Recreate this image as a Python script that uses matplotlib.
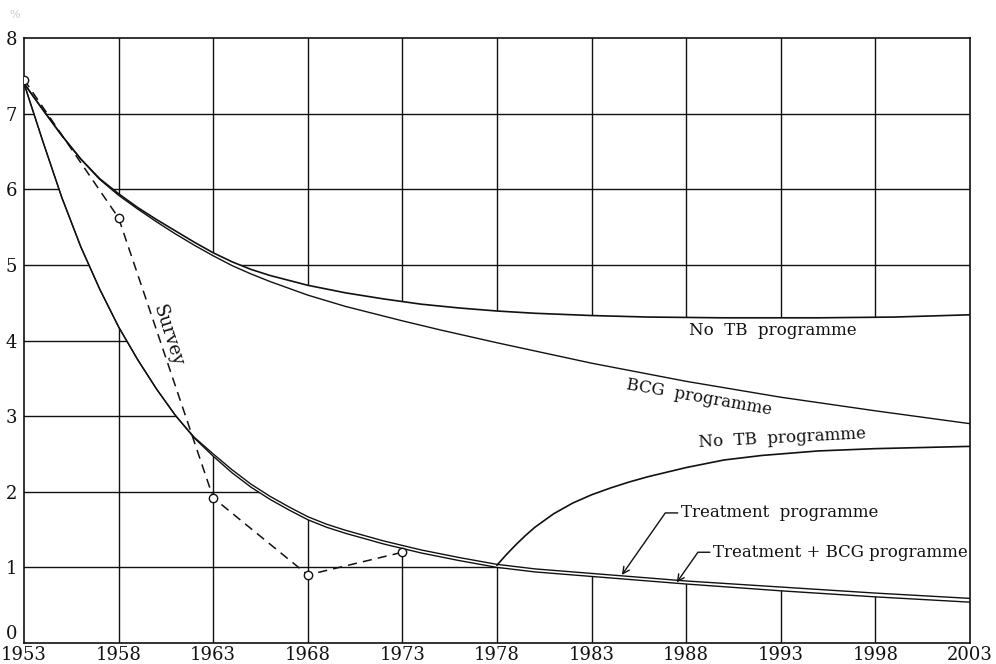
import matplotlib.pyplot as plt

# Prevalence (%) by year
no_tb_years = [1953, 1954, 1955, 1956, 1957, 1958, 1959, 1960, 1961, 1962, 1963,
               1964, 1965, 1966, 1968, 1970, 1972, 1974, 1976, 1978, 1980, 1983,
               1986, 1990, 1995, 1999, 2003]
no_tb_vals = [7.40, 7.05, 6.71, 6.40, 6.14, 5.94, 5.76, 5.60, 5.45, 5.30, 5.16,
              5.04, 4.94, 4.86, 4.73, 4.63, 4.55, 4.48, 4.43, 4.39, 4.36, 4.33,
              4.31, 4.30, 4.30, 4.31, 4.34]

bcg_years = [1953, 1954, 1955, 1956, 1957, 1958, 1959, 1960, 1961, 1962, 1963,
             1964, 1965, 1966, 1968, 1970, 1973, 1975, 1978, 1983, 1988, 1993,
             1998, 2003]
bcg_vals = [7.40, 7.05, 6.71, 6.40, 6.13, 5.92, 5.74, 5.57, 5.41, 5.26, 5.12,
            4.99, 4.88, 4.78, 4.60, 4.45, 4.26, 4.14, 3.97, 3.70, 3.46, 3.25,
            3.07, 2.90]

treat_years = [1953, 1954, 1955, 1956, 1957, 1958, 1959, 1960, 1961, 1962, 1963,
               1964, 1965, 1966, 1967, 1968, 1969, 1970, 1972, 1974, 1976, 1978,
               1980, 1983, 1988, 1993, 1998, 2003]
treat_vals = [7.40, 6.63, 5.89, 5.24, 4.68, 4.18, 3.75, 3.36, 3.01, 2.72, 2.50,
              2.29, 2.10, 1.94, 1.80, 1.67, 1.57, 1.49, 1.35, 1.23, 1.13, 1.04,
              0.98, 0.92, 0.82, 0.74, 0.66, 0.59]
treat_bcg_vals = [7.40, 6.63, 5.89, 5.24, 4.68, 4.18, 3.75, 3.36, 3.01, 2.71, 2.47,
                  2.25, 2.06, 1.90, 1.76, 1.63, 1.53, 1.45, 1.31, 1.19, 1.09, 1.00,
                  0.94, 0.88, 0.78, 0.69, 0.61, 0.54]

stop_years = [1978, 1978.5, 1979, 1979.5, 1980, 1981, 1982, 1983, 1984, 1985,
              1986, 1987, 1988, 1990, 1992, 1995, 1998, 2003]
stop_vals = [1.03, 1.17, 1.30, 1.42, 1.53, 1.71, 1.85, 1.96, 2.05, 2.13,
             2.20, 2.26, 2.32, 2.42, 2.48, 2.54, 2.57, 2.60]

survey_years = [1953, 1958, 1963, 1968, 1973]
survey_vals = [7.45, 5.62, 1.92, 0.90, 1.20]

x_ticks = list(range(1953, 2004, 5))
y_ticks = list(range(0, 9))

INK = '#111111'
plt.rcParams['font.family'] = ['DejaVu Serif']

fig = plt.figure(figsize=(9.96, 6.64), dpi=100)
ax = fig.add_axes([24 / 996, 21 / 664, 946 / 996, 605 / 664])
ax.set_xlim(1953, 2003)
ax.set_ylim(0, 8)

# grid only shows outside the band between the curves
for xv in x_ticks[1:-1]:
    ax.axvline(xv, color=INK, lw=1.0, zorder=1)
for yv in y_ticks[1:-1]:
    ax.axhline(yv, color=INK, lw=1.0, zorder=1)

band_x = no_tb_years + treat_years[::-1]
band_y = no_tb_vals + treat_bcg_vals[::-1]
ax.fill(band_x, band_y, color='white', lw=0, zorder=2)

ax.plot(no_tb_years, no_tb_vals, color=INK, lw=1.2, zorder=3)
ax.plot(bcg_years, bcg_vals, color=INK, lw=1.0, zorder=3)
ax.plot(treat_years, treat_vals, color=INK, lw=1.0, zorder=3)
ax.plot(treat_years, treat_bcg_vals, color=INK, lw=1.0, zorder=3)
ax.plot(stop_years, stop_vals, color=INK, lw=1.2, zorder=3)
ax.plot(survey_years, survey_vals, color=INK, lw=1.1, ls=(0, (6, 4)),
        marker='o', ms=6, mfc='white', mec=INK, mew=1.0, zorder=4)

for s in ax.spines.values():
    s.set_color(INK)
    s.set_linewidth(1.2)

ax.set_xticks(x_ticks)
ax.set_yticks(y_ticks)
ax.tick_params(length=0, labelsize=13, colors=INK, pad=2)
ax.tick_params(axis='y', pad=5)
# the 0 sits a little above the corner, clear of 1953
ax.get_yticklabels()[0].set_va('bottom')

txt = dict(fontsize=12, color=INK, zorder=5)
ax.text(1992.6, 4.13, 'No  TB  programme', ha='center', va='center', **txt)
ax.text(1988.7, 3.25, 'BCG  programme', ha='center', va='center', rotation=-10, **txt)
ax.text(1993.1, 2.71, 'No  TB  programme', ha='center', va='center', rotation=3, **txt)
ax.text(1960.6, 4.07, 'Survey', ha='center', va='center', rotation=-72,
        fontsize=13, color=INK, zorder=5)

arrow = dict(arrowstyle='->', color=INK, lw=1.0, shrinkA=0, shrinkB=0,
             connectionstyle='angle,angleA=0,angleB=55,rad=0')
ax.annotate('Treatment  programme', xy=(1984.6, 0.90), xytext=(1987.7, 1.72),
            ha='left', va='center', arrowprops=dict(arrow, relpos=(0, 0.5)), **txt)
ax.annotate('Treatment + BCG programme', xy=(1987.5, 0.80), xytext=(1989.4, 1.20),
            ha='left', va='center', arrowprops=dict(arrow, relpos=(0, 0.5)), **txt)

fig.text(15 / 996, 1 - 15 / 664, '%', color='#c8c8c8', fontsize=8, ha='center', va='center')

fig.savefig('out.png', dpi=100)
